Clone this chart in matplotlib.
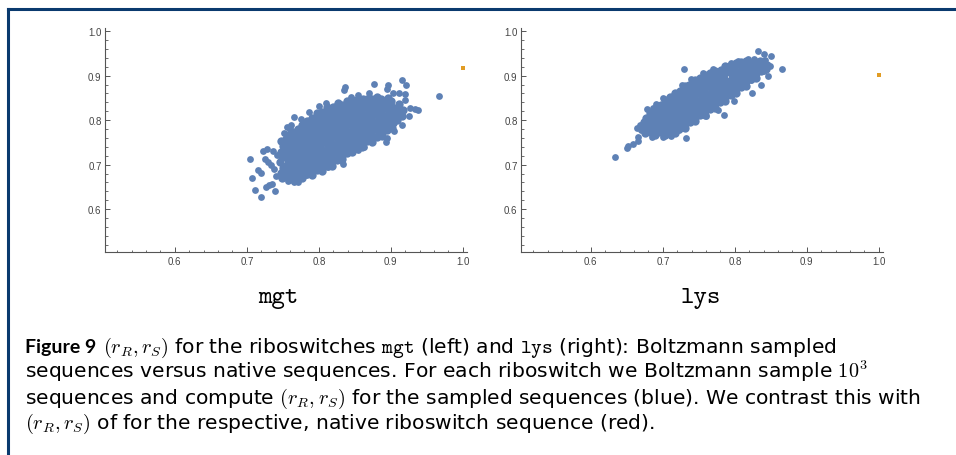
import matplotlib
matplotlib.use("Agg")
import matplotlib.pyplot as plt
from matplotlib.lines import Line2D
from matplotlib.ticker import MultipleLocator

plt.rcParams['mathtext.fontset'] = 'cm'

# Data: (r_R, r_S) of the Boltzmann sampled sequences
# dense core of the mgt cloud
mgt_core = [
    (0.749, 0.669), (0.747, 0.681), (0.750, 0.693), (0.746, 0.705), (0.749, 0.717), (0.747, 0.729), (0.750, 0.741), (0.748, 0.753),
    (0.755, 0.674), (0.756, 0.686), (0.754, 0.698), (0.757, 0.710), (0.755, 0.722), (0.753, 0.734), (0.756, 0.746), (0.755, 0.758), (0.756, 0.766),
    (0.762, 0.667), (0.763, 0.679), (0.761, 0.691), (0.764, 0.703), (0.762, 0.715), (0.760, 0.727), (0.763, 0.739), (0.761, 0.751), (0.762, 0.763), (0.764, 0.773),
    (0.769, 0.674), (0.770, 0.686), (0.768, 0.698), (0.771, 0.710), (0.769, 0.722), (0.767, 0.734), (0.770, 0.746), (0.768, 0.758), (0.769, 0.770), (0.771, 0.781),
    (0.776, 0.670), (0.777, 0.682), (0.775, 0.694), (0.778, 0.706), (0.776, 0.718), (0.774, 0.730), (0.777, 0.742), (0.775, 0.754), (0.776, 0.766), (0.778, 0.778), (0.776, 0.790),
    (0.783, 0.679), (0.784, 0.691), (0.782, 0.703), (0.785, 0.715), (0.783, 0.727), (0.781, 0.739), (0.784, 0.751), (0.782, 0.763), (0.783, 0.775), (0.785, 0.787), (0.783, 0.797),
    (0.790, 0.676), (0.791, 0.688), (0.789, 0.700), (0.792, 0.712), (0.790, 0.724), (0.788, 0.736), (0.791, 0.748), (0.789, 0.760), (0.790, 0.772), (0.792, 0.784), (0.790, 0.796), (0.791, 0.805),
    (0.797, 0.687), (0.798, 0.699), (0.796, 0.711), (0.799, 0.723), (0.797, 0.735), (0.795, 0.747), (0.798, 0.759), (0.796, 0.771), (0.797, 0.783), (0.799, 0.795), (0.797, 0.807), (0.798, 0.815),
    (0.804, 0.686), (0.805, 0.698), (0.803, 0.710), (0.806, 0.722), (0.804, 0.734), (0.802, 0.746), (0.805, 0.758), (0.803, 0.770), (0.804, 0.782), (0.806, 0.794), (0.804, 0.806), (0.805, 0.818),
    (0.811, 0.698), (0.812, 0.710), (0.810, 0.722), (0.813, 0.734), (0.811, 0.746), (0.809, 0.758), (0.812, 0.770), (0.810, 0.782), (0.811, 0.794), (0.813, 0.806), (0.811, 0.818), (0.812, 0.829),
    (0.818, 0.698), (0.819, 0.710), (0.817, 0.722), (0.820, 0.734), (0.818, 0.746), (0.816, 0.758), (0.819, 0.770), (0.817, 0.782), (0.818, 0.794), (0.820, 0.806), (0.818, 0.818), (0.819, 0.830),
    (0.825, 0.711), (0.826, 0.723), (0.824, 0.735), (0.827, 0.747), (0.825, 0.759), (0.823, 0.771), (0.826, 0.783), (0.824, 0.795), (0.825, 0.807), (0.827, 0.819), (0.825, 0.831), (0.826, 0.838),
    (0.832, 0.713), (0.833, 0.725), (0.831, 0.737), (0.834, 0.749), (0.832, 0.761), (0.830, 0.773), (0.833, 0.785), (0.831, 0.797), (0.832, 0.809), (0.834, 0.821), (0.832, 0.833),
    (0.839, 0.726), (0.840, 0.738), (0.838, 0.750), (0.841, 0.762), (0.839, 0.774), (0.837, 0.786), (0.840, 0.798), (0.838, 0.810), (0.839, 0.822), (0.841, 0.834), (0.839, 0.843),
    (0.846, 0.728), (0.847, 0.740), (0.845, 0.752), (0.848, 0.764), (0.846, 0.776), (0.844, 0.788), (0.847, 0.800), (0.845, 0.812), (0.846, 0.824), (0.848, 0.836), (0.846, 0.845),
    (0.853, 0.741), (0.854, 0.753), (0.852, 0.765), (0.855, 0.777), (0.853, 0.789), (0.851, 0.801), (0.854, 0.813), (0.852, 0.825), (0.853, 0.837), (0.855, 0.847),
    (0.860, 0.740), (0.861, 0.752), (0.859, 0.764), (0.862, 0.776), (0.860, 0.788), (0.858, 0.800), (0.861, 0.812), (0.859, 0.824), (0.860, 0.836), (0.862, 0.848),
    (0.867, 0.752), (0.868, 0.764), (0.866, 0.776), (0.869, 0.788), (0.867, 0.800), (0.865, 0.812), (0.868, 0.824), (0.866, 0.836), (0.867, 0.848),
    (0.874, 0.751), (0.875, 0.763), (0.873, 0.775), (0.876, 0.787), (0.874, 0.799), (0.872, 0.811), (0.875, 0.823), (0.873, 0.835), (0.874, 0.847),
    (0.881, 0.763), (0.882, 0.775), (0.880, 0.787), (0.883, 0.799), (0.881, 0.811), (0.879, 0.823), (0.882, 0.835), (0.880, 0.847), (0.881, 0.853),
    (0.888, 0.764), (0.889, 0.776), (0.887, 0.788), (0.890, 0.800), (0.888, 0.812), (0.886, 0.824), (0.889, 0.836), (0.887, 0.848),
    (0.895, 0.778), (0.896, 0.790), (0.894, 0.802), (0.897, 0.814), (0.895, 0.826), (0.893, 0.838), (0.896, 0.849),
    (0.902, 0.782), (0.903, 0.794), (0.901, 0.806), (0.904, 0.818), (0.902, 0.830), (0.900, 0.842),
    (0.909, 0.801), (0.910, 0.813), (0.908, 0.825), (0.911, 0.836),
    (0.916, 0.810), (0.917, 0.822),
]
# scattered mgt points around the core
mgt_scatter = [
    (0.705, 0.713), (0.707, 0.670), (0.711, 0.644), (0.719, 0.627), (0.722, 0.730), (0.728, 0.736),
    (0.715, 0.687), (0.720, 0.682), (0.725, 0.712), (0.729, 0.705), (0.733, 0.700), (0.727, 0.649),
    (0.731, 0.655), (0.739, 0.640), (0.735, 0.656), (0.740, 0.675), (0.738, 0.690), (0.742, 0.722),
    (0.737, 0.731), (0.766, 0.807), (0.756, 0.784), (0.762, 0.790), (0.837, 0.874), (0.835, 0.867),
    (0.876, 0.882), (0.896, 0.878), (0.895, 0.869), (0.916, 0.891), (0.921, 0.878), (0.912, 0.860),
    (0.903, 0.862), (0.919, 0.858), (0.967, 0.855), (0.933, 0.824), (0.926, 0.827), (0.938, 0.822),
    (0.915, 0.789), (0.893, 0.750), (0.895, 0.760), (0.832, 0.709), (0.833, 0.702), (0.813, 0.694),
    (0.771, 0.661), (0.782, 0.676), (0.765, 0.660), (0.757, 0.663), (0.854, 0.732), (0.863, 0.739),
    (0.905, 0.775), (0.925, 0.810), (0.920, 0.845), (0.870, 0.861), (0.855, 0.856), (0.845, 0.853),
    (0.810, 0.838), (0.800, 0.832), (0.787, 0.818), (0.775, 0.803), (0.760, 0.779), (0.752, 0.771),
]

# dense core of the lys cloud
lys_core = [
    (0.675, 0.772), (0.676, 0.784), (0.674, 0.796), (0.676, 0.805),
    (0.682, 0.774), (0.683, 0.786), (0.681, 0.798), (0.683, 0.810), (0.682, 0.815),
    (0.689, 0.767), (0.690, 0.779), (0.688, 0.791), (0.691, 0.803), (0.689, 0.815), (0.690, 0.825),
    (0.696, 0.773), (0.697, 0.785), (0.695, 0.797), (0.698, 0.809), (0.696, 0.821), (0.697, 0.833),
    (0.703, 0.767), (0.704, 0.779), (0.702, 0.791), (0.705, 0.803), (0.703, 0.815), (0.701, 0.827), (0.704, 0.839), (0.703, 0.845),
    (0.710, 0.774), (0.711, 0.786), (0.709, 0.798), (0.712, 0.810), (0.710, 0.822), (0.708, 0.834), (0.711, 0.846), (0.710, 0.852),
    (0.717, 0.770), (0.718, 0.782), (0.716, 0.794), (0.719, 0.806), (0.717, 0.818), (0.715, 0.830), (0.718, 0.842), (0.716, 0.854), (0.717, 0.860),
    (0.724, 0.782), (0.725, 0.794), (0.723, 0.806), (0.726, 0.818), (0.724, 0.830), (0.722, 0.842), (0.725, 0.854), (0.724, 0.866),
    (0.731, 0.783), (0.732, 0.795), (0.730, 0.807), (0.733, 0.819), (0.731, 0.831), (0.729, 0.843), (0.732, 0.855), (0.730, 0.867), (0.731, 0.876),
    (0.738, 0.796), (0.739, 0.808), (0.737, 0.820), (0.740, 0.832), (0.738, 0.844), (0.736, 0.856), (0.739, 0.868), (0.737, 0.880),
    (0.745, 0.797), (0.746, 0.809), (0.744, 0.821), (0.747, 0.833), (0.745, 0.845), (0.743, 0.857), (0.746, 0.869), (0.744, 0.881), (0.745, 0.890),
    (0.752, 0.811), (0.753, 0.823), (0.751, 0.835), (0.754, 0.847), (0.752, 0.859), (0.750, 0.871), (0.753, 0.883), (0.751, 0.895),
    (0.759, 0.812), (0.760, 0.824), (0.758, 0.836), (0.761, 0.848), (0.759, 0.860), (0.757, 0.872), (0.760, 0.884), (0.758, 0.896), (0.759, 0.902),
    (0.766, 0.826), (0.767, 0.838), (0.765, 0.850), (0.768, 0.862), (0.766, 0.874), (0.764, 0.886), (0.767, 0.898), (0.766, 0.907),
    (0.773, 0.828), (0.774, 0.840), (0.772, 0.852), (0.775, 0.864), (0.773, 0.876), (0.771, 0.888), (0.774, 0.900), (0.772, 0.911),
    (0.780, 0.841), (0.781, 0.853), (0.779, 0.865), (0.782, 0.877), (0.780, 0.889), (0.778, 0.901), (0.781, 0.913),
    (0.787, 0.843), (0.788, 0.855), (0.786, 0.867), (0.789, 0.879), (0.787, 0.891), (0.785, 0.903), (0.788, 0.915), (0.787, 0.921),
    (0.794, 0.857), (0.795, 0.869), (0.793, 0.881), (0.796, 0.893), (0.794, 0.905), (0.792, 0.917), (0.795, 0.925),
    (0.801, 0.860), (0.802, 0.872), (0.800, 0.884), (0.803, 0.896), (0.801, 0.908), (0.799, 0.920), (0.802, 0.928),
    (0.808, 0.874), (0.809, 0.886), (0.807, 0.898), (0.810, 0.910), (0.808, 0.922), (0.809, 0.930),
    (0.815, 0.877), (0.816, 0.889), (0.814, 0.901), (0.817, 0.913), (0.815, 0.925), (0.816, 0.932),
    (0.822, 0.892), (0.823, 0.904), (0.821, 0.916), (0.824, 0.928),
    (0.829, 0.895), (0.830, 0.907), (0.828, 0.919), (0.830, 0.931),
    (0.836, 0.911), (0.837, 0.923), (0.835, 0.932),
    (0.843, 0.915), (0.844, 0.925),
]
# scattered lys points around the core
lys_scatter = [
    (0.633, 0.717), (0.651, 0.743), (0.650, 0.737), (0.658, 0.747), (0.666, 0.762), (0.665, 0.754),
    (0.664, 0.782), (0.678, 0.825), (0.690, 0.837), (0.730, 0.914), (0.732, 0.760), (0.785, 0.812),
    (0.832, 0.956), (0.840, 0.949), (0.850, 0.944), (0.866, 0.915), (0.836, 0.879), (0.824, 0.860),
    (0.799, 0.842), (0.776, 0.822), (0.739, 0.893), (0.849, 0.922), (0.841, 0.910), (0.822, 0.890),
    (0.670, 0.777), (0.668, 0.790), (0.685, 0.762), (0.700, 0.762), (0.712, 0.764), (0.722, 0.778),
    (0.740, 0.800), (0.760, 0.810), (0.842, 0.935), (0.818, 0.937), (0.826, 0.938), (0.805, 0.934),
    (0.795, 0.928), (0.770, 0.915), (0.756, 0.905), (0.727, 0.880), (0.700, 0.850), (0.686, 0.828),
    (0.846, 0.900),
]

# native riboswitch sequences
mgt_native = (1.0, 0.917)
lys_native = (1.0, 0.902)

panel_names = ["mgt", "lys"]

blue = "#5E81B5"
orange = "#E19C24"

fig = plt.figure(figsize=(9.56, 4.56), dpi=100)
W, H = 956, 456

x0, x1 = 0.503, 1.006
y0, y1 = 0.503, 1.006
ax_w = (x1 - x0) * 720 / W
ax_h = (y1 - y0) * 445 / H
bottom = (H - 253.3) / H

panels = [
    (105 / W, mgt_core, mgt_scatter, mgt_native),
    (521 / W, lys_core, lys_scatter, lys_native),
]

for left, core, extra, native in panels:
    ax = fig.add_axes([left, bottom, ax_w, ax_h])
    ax.scatter([p[0] for p in core], [p[1] for p in core], s=36, color=blue,
               linewidths=0, zorder=2)
    ax.scatter([p[0] for p in extra], [p[1] for p in extra], s=24, color=blue,
               linewidths=0, zorder=2)
    ax.scatter([native[0]], [native[1]], s=9, marker='s', color=orange, linewidths=0, zorder=3)
    ax.set_xlim(x0, x1)
    ax.set_ylim(y0, y1)
    for side in ['top', 'right']:
        ax.spines[side].set_visible(False)
    for side in ['left', 'bottom']:
        ax.spines[side].set_color('#555555')
        ax.spines[side].set_linewidth(0.8)
    ax.xaxis.set_minor_locator(MultipleLocator(0.02))
    ax.yaxis.set_minor_locator(MultipleLocator(0.02))
    ax.tick_params(which='major', direction='in', length=3.5, width=0.7, color='#555555',
                   labelsize=7, labelcolor='#444444', pad=2.5)
    ax.tick_params(which='minor', direction='in', length=1.8, width=0.6, color='#555555')
    ax.set_xticks([0.6, 0.7, 0.8, 0.9, 1.0])
    ax.set_yticks([0.6, 0.7, 0.8, 0.9, 1.0])
    ax.set_xticklabels(["0.6", "0.7", "0.8", "0.9", "1.0"], family='Liberation Sans')
    ax.set_yticklabels(["0.6", "0.7", "0.8", "0.9", "1.0"], family='Liberation Sans')
    ax.patch.set_alpha(0)

# panel names under each plot
fig.text(278 / W, 1 - 302.7 / H, panel_names[0], family='cmtt10', fontsize=18.5,
         ha='center', va='baseline')
fig.text(701 / W, 1 - 302.7 / H, panel_names[1], family='cmtt10', fontsize=18.5,
         ha='center', va='baseline')

# caption
cap_size = 14.6
rest1 = (r"$(r_R, r_S)$ for the riboswitches $\mathtt{mgt}$ (left) and "
         r"$\mathtt{lys}$ (right): Boltzmann sampled")
lines = [
    r"sequences versus native sequences. For each riboswitch we Boltzmann sample $10^3$",
    r"sequences and compute $(r_R, r_S)$ for the sampled sequences (blue). We contrast this with",
    r"$(r_R, r_S)$ of for the respective, native riboswitch sequence (red).",
]
baselines = [352.7, 378.2, 403.6, 429.0]

t = fig.text(25 / W, 1 - baselines[0] / H, "Figure 9", family='Lato', weight='bold',
             fontsize=14, va='baseline')
renderer = fig.canvas.get_renderer()
bb = t.get_window_extent(renderer)
fig.text((bb.x1 + 7) / W, 1 - baselines[0] / H, rest1, family='DejaVu Sans',
         fontsize=cap_size, va='baseline')
for line, yb in zip(lines, baselines[1:]):
    fig.text(25 / W, 1 - yb / H, line, family='DejaVu Sans', fontsize=cap_size, va='baseline')

# frame (top and left edges only)
fig.add_artist(Line2D([7.5 / W, 1.0], [1 - 10 / H, 1 - 10 / H], color='#0A3A6E', lw=2.2))
fig.add_artist(Line2D([7.5 / W, 7.5 / W], [1 - 10 / H, 0.0], color='#0A3A6E', lw=2.2))

fig.savefig("out.png", dpi=100)
